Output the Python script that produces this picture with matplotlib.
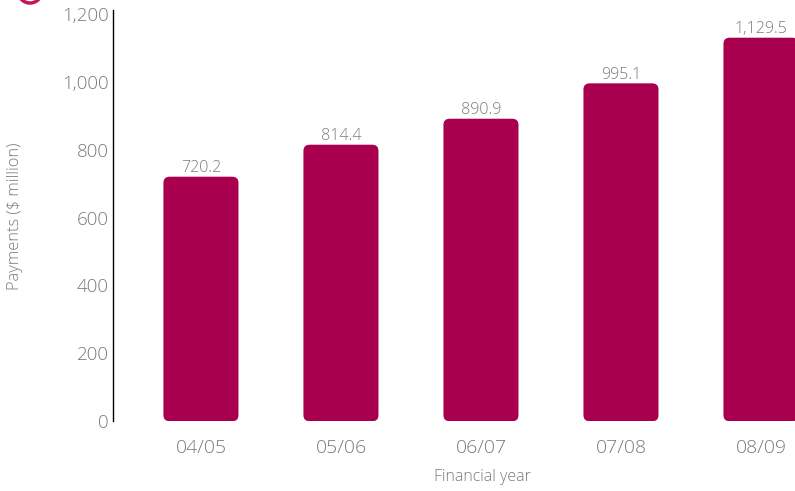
import matplotlib
matplotlib.use("Agg")
import matplotlib.pyplot as plt
from matplotlib.patches import FancyBboxPatch, Circle

years = ["04/05", "05/06", "06/07", "07/08", "08/09"]
payments = [720.2, 814.4, 890.9, 995.1, 1129.5]
yticks = [0, 200, 400, 600, 800, 1000, 1200]

BAR = "#a8004f"
GREY = "#7a7a7a"

plt.rcParams["font.family"] = ["Open Sans", "DejaVu Sans"]
plt.rcParams["font.weight"] = "light"

fig = plt.figure(figsize=(7.95, 4.91), dpi=100)
ax = fig.add_axes([0.142, 0.142, 0.858, 0.8376])

x = range(len(years))
bars = ax.bar(x, payments, width=0.536, color="none")

ax.set_xlim(-0.629, 4.243)
ax.set_ylim(0, 1211)

# swap the plain rectangles for rounded ones of the same size
for b in bars:
    patch = FancyBboxPatch((b.get_x(), b.get_y()), b.get_width(), b.get_height(),
                           boxstyle="round,pad=0,rounding_size=0.045",
                           mutation_aspect=400, facecolor=BAR, edgecolor="none")
    ax.add_patch(patch)
    b.remove()

for xi, v in zip(x, payments):
    ax.annotate(f"{v:,.1f}", (xi, v), xytext=(0, 0.5), textcoords="offset points",
                ha="center", va="bottom", fontsize=11.5, color=GREY)

ax.set_yticks(yticks)
ax.set_yticklabels([f"{t:,}" for t in yticks])
ax.set_xticks(list(x))
ax.set_xticklabels(years)
ax.tick_params(axis="y", length=0, pad=3, labelsize=13.5, labelcolor=GREY)
ax.tick_params(axis="x", length=0, pad=13, labelsize=14, labelcolor=GREY)

for s in ["top", "right", "bottom"]:
    ax.spines[s].set_visible(False)
ax.spines["left"].set_color("black")
ax.spines["left"].set_linewidth(1)

fig.text(0.019, 0.56, "Payments ($ million)", rotation=90, ha="center", va="center",
         fontsize=11.8, color=GREY)
fig.text(0.607, 0.028, "Financial year", ha="center", va="center",
         fontsize=11.5, color=GREY)

# ring of the logo peeking in at the top (sized in inches)
fig.patches.append(Circle((0.30, 5.00), 0.12, transform=fig.dpi_scale_trans,
                          fill=False, edgecolor="#c2185b", linewidth=2.5))

fig.savefig("out.png", dpi=100)
